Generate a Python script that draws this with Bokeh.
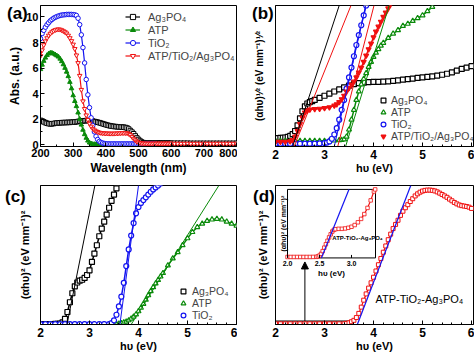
import math
from bokeh.plotting import figure
from bokeh.layouts import column, row
from bokeh.models import Range1d, FixedTicker, Legend, LegendItem, Arrow, NormalHead, Div
from bokeh.core.properties import value
from bokeh.embed import file_html
from bokeh.resources import INLINE

FONT = "Liberation Sans"
BLACK, GREEN, BLUE, RED = "#000000", "#0a8a0a", "#1414f0", "#f01010"

NAMES = ["Ag\u2083PO\u2084", "ATP", "TiO\u2082", "ATP/TiO\u2082/Ag\u2083PO\u2084"]
COMPOSITE_LABEL = "ATP-TiO\u2082-Ag\u2083PO\u2084"
PANEL_TAGS = ["(a)", "(b)", "(c)", "(d)"]

# ---------------- (a) absorbance spectra ----------------
wl_ag = list(range(200, 605, 5)) + list(range(610, 810, 10))
abs_ag = [1.90, 1.85, 1.78, 1.72, 1.67, 1.64, 1.62, 1.63, 1.65, 1.67,
          1.69, 1.70, 1.71, 1.72, 1.72, 1.73, 1.73, 1.74, 1.74, 1.75,
          1.76, 1.77, 1.79, 1.81, 1.83, 1.85, 1.86, 1.87, 1.88, 1.88,
          1.87, 1.86, 1.84, 1.81, 1.78, 1.75, 1.72, 1.68, 1.64, 1.60,
          1.56, 1.52, 1.49, 1.46, 1.44, 1.42, 1.41, 1.40, 1.39, 1.38,
          1.37, 1.36, 1.34, 1.30, 1.22, 1.10, 0.98, 0.85, 0.68, 0.52,
          0.40, 0.28, 0.20, 0.15, 0.13, 0.12, 0.12, 0.12, 0.12, 0.12,
          0.12, 0.12, 0.12, 0.11, 0.11, 0.11, 0.11, 0.11, 0.11, 0.11,
          0.11,
          0.11, 0.11, 0.11, 0.11, 0.11, 0.10, 0.10, 0.10, 0.10, 0.10,
          0.10, 0.10, 0.10, 0.10, 0.10, 0.10, 0.10, 0.10, 0.10, 0.10]
wl_atp = list(range(200, 405, 5))
abs_atp = [5.90, 6.25, 6.55, 6.80, 7.00, 7.12, 7.18, 7.18, 7.12, 7.05,
           6.97, 6.88, 6.72, 6.52, 6.28, 6.00, 5.70, 5.35, 4.90, 4.40,
           3.85, 3.40, 3.00, 2.50, 2.00, 1.55, 1.15, 0.80, 0.52, 0.30,
           0.15, 0.07, 0.03, 0.02, 0.02, 0.02, 0.02, 0.02, 0.02, 0.02, 0.02]
wl_tio = list(range(200, 555, 5))
abs_tio = [8.30, 8.70, 8.95, 9.20, 9.40, 9.55, 9.70, 9.80, 9.90, 9.97,
           10.03, 10.08, 10.12, 10.15, 10.17, 10.18, 10.20, 10.20, 10.20, 10.20,
           10.19, 10.17, 10.12, 9.90, 9.40, 8.60, 7.60, 6.40, 5.10, 3.90,
           2.90, 2.10, 1.50, 1.00, 0.65, 0.40, 0.25, 0.17, 0.12, 0.09,
           0.07, 0.06, 0.05, 0.05, 0.05, 0.05, 0.05, 0.05, 0.05, 0.05,
           0.05, 0.05, 0.05, 0.05, 0.05, 0.05, 0.05, 0.05, 0.05, 0.05,
           0.05, 0.05, 0.05, 0.05, 0.05, 0.05, 0.05, 0.05, 0.05, 0.05,
           0.05]
wl_cmp = list(range(200, 605, 5)) + list(range(610, 810, 10))
abs_cmp = [6.95, 7.40, 7.80, 8.10, 8.35, 8.55, 8.70, 8.82, 8.92, 8.98,
           9.02, 9.04, 9.02, 8.97, 8.90, 8.82, 8.72, 8.55, 8.35, 8.12,
           7.85, 7.50, 7.00, 6.40, 5.40, 4.30, 3.40, 2.80, 2.30, 1.95,
           1.65, 1.42, 1.25, 1.13, 1.05, 0.99, 0.95, 0.92, 0.90, 0.89,
           0.88, 0.88, 0.87, 0.87, 0.87, 0.87, 0.88, 0.88, 0.89, 0.90,
           0.91, 0.91, 0.91, 0.90, 0.85, 0.76, 0.62, 0.47, 0.34, 0.24,
           0.17, 0.13, 0.11, 0.10, 0.09, 0.09, 0.09, 0.09, 0.09, 0.09,
           0.09, 0.09, 0.09, 0.09, 0.09, 0.09, 0.09, 0.09, 0.09, 0.09,
           0.09,
           0.08, 0.08, 0.08, 0.08, 0.08, 0.08, 0.08, 0.08, 0.08, 0.08,
           0.08, 0.08, 0.08, 0.08, 0.08, 0.08, 0.08, 0.08, 0.08, 0.08]
a_xticks = [200, 300, 400, 500, 600, 700, 800]
a_xminor = [250, 350, 450, 550, 650, 750]
a_yticks = [0, 2, 4, 6, 8, 10]
a_yminor = [1, 3, 5, 7, 9]

# ---------------- (b) (alpha h nu)^1/2 Tauc plot ----------------
b_ag_x = [2.0, 2.05, 2.1, 2.15, 2.2, 2.25, 2.3, 2.35, 2.4, 2.45, 2.5, 2.55, 2.6, 2.65, 2.7, 2.75, 2.8,
          2.9, 3.0, 3.1, 3.2, 3.3, 3.4, 3.5, 3.6, 3.7, 3.8, 3.9, 4.0, 4.1, 4.2, 4.3, 4.4, 4.5, 4.6,
          4.7, 4.8, 4.9, 5.0, 5.1, 5.2, 5.3, 5.4, 5.5, 5.6, 5.7, 5.8, 5.9, 6.0]
b_ag_y = [0.060, 0.060, 0.061, 0.062, 0.064, 0.068, 0.075, 0.088, 0.11, 0.15, 0.20, 0.25, 0.285, 0.305,
          0.315, 0.322, 0.33,
          0.345, 0.36, 0.375, 0.39, 0.405, 0.42, 0.432, 0.442, 0.449, 0.453, 0.456, 0.458, 0.459, 0.46,
          0.462, 0.465, 0.469, 0.474, 0.478, 0.482, 0.486, 0.49, 0.494, 0.498, 0.503, 0.509, 0.516,
          0.526, 0.538, 0.55, 0.56, 0.57]
b_atp_x = [2.0, 2.1, 2.2, 2.3, 2.4, 2.5, 2.6, 2.7, 2.8, 2.9, 3.0, 3.1, 3.2, 3.3,
           3.35, 3.4, 3.45, 3.5, 3.55, 3.6, 3.65, 3.7, 3.75, 3.8, 3.85, 3.9, 3.95, 4.0, 4.05, 4.1, 4.15, 4.2,
           4.3, 4.4, 4.5, 4.6, 4.7, 4.8, 4.9, 5.0, 5.1, 5.2]
b_atp_y = [0.04, 0.04, 0.04, 0.04, 0.04, 0.04, 0.04, 0.04, 0.04, 0.04, 0.04, 0.041, 0.042, 0.044,
           0.046, 0.05, 0.07, 0.12, 0.19, 0.26, 0.33, 0.39, 0.44, 0.48, 0.52, 0.565, 0.60, 0.635, 0.665,
           0.69, 0.715, 0.735,
           0.77, 0.80, 0.825, 0.855, 0.87, 0.89, 0.91, 0.93, 0.96, 0.99]
b_tio_x = [2.0, 2.1, 2.2, 2.3, 2.4, 2.5, 2.6, 2.7, 2.8, 2.9, 3.0,
           3.05, 3.1, 3.15, 3.2, 3.25, 3.3, 3.35, 3.4, 3.45, 3.5, 3.55, 3.6, 3.65, 3.7, 3.75, 3.8, 3.85]
b_tio_y = [0.02, 0.02, 0.02, 0.02, 0.02, 0.02, 0.02, 0.02, 0.021, 0.022, 0.024,
           0.028, 0.036, 0.055, 0.085, 0.13, 0.19, 0.26, 0.33, 0.41, 0.49, 0.56, 0.64, 0.72, 0.79, 0.86,
           0.93, 1.0]
b_cmp_x = [2.0, 2.1, 2.2, 2.3, 2.35, 2.4, 2.45, 2.5, 2.55, 2.6, 2.65, 2.7, 2.8, 2.9, 3.0, 3.1, 3.2,
           3.25, 3.3, 3.35, 3.4, 3.45, 3.5, 3.55, 3.6, 3.65, 3.7, 3.75, 3.8, 3.85, 3.9, 3.95, 4.0, 4.05,
           4.1, 4.15, 4.2, 4.25, 4.3, 4.35]
b_cmp_y = [0.033, 0.033, 0.034, 0.037, 0.045, 0.07, 0.11, 0.16, 0.205, 0.24, 0.255, 0.262, 0.266,
           0.268, 0.272, 0.278, 0.29,
           0.30, 0.315, 0.335, 0.36, 0.39, 0.415, 0.44, 0.46, 0.49, 0.525, 0.56, 0.60, 0.645, 0.69, 0.73,
           0.775, 0.815, 0.85, 0.885, 0.92, 0.95, 0.98, 1.01]
# fitted straight lines (x where the line leaves the bottom and the top of the plot)
b_fit_x0 = [2.35, 2.38, 3.20, 3.27, 3.43]
b_fit_x1 = [3.30, 3.54, 3.84, 4.01, 4.32]
b_fit_col = [BLACK, RED, BLUE, RED, GREEN]

# ---------------- (c) (alpha h nu)^2 plot ----------------
c_ag_x = [2.0, 2.1, 2.2, 2.3, 2.35, 2.4, 2.45, 2.5, 2.55, 2.6, 2.65, 2.7, 2.75, 2.8, 2.85, 2.9, 2.95,
          3.0, 3.05, 3.1, 3.15, 3.2, 3.25, 3.3, 3.35, 3.4, 3.45, 3.5, 3.55, 3.6]
c_ag_y = [0.003, 0.003, 0.003, 0.004, 0.005, 0.007, 0.015, 0.04, 0.09, 0.16, 0.225, 0.275, 0.302,
          0.315, 0.322, 0.335, 0.356, 0.39, 0.45, 0.51, 0.57, 0.635, 0.69, 0.74, 0.79, 0.84, 0.89,
          0.935, 0.98, 1.02]
c_atp_x = [2.0, 2.1, 2.2, 2.3, 2.4, 2.5, 2.6, 2.7, 2.8, 2.9, 3.0, 3.1, 3.2, 3.3, 3.4, 3.5,
           3.55, 3.6, 3.65, 3.7, 3.75, 3.8, 3.85, 3.9, 3.95, 4.0, 4.05, 4.1, 4.15, 4.2, 4.25, 4.3, 4.35,
           4.4, 4.45, 4.5,
           4.6, 4.7, 4.8, 4.9, 5.0, 5.1, 5.2, 5.3, 5.4, 5.5, 5.6, 5.7, 5.8, 5.9, 6.0]
c_atp_y = [0.003, 0.003, 0.003, 0.003, 0.003, 0.003, 0.003, 0.003, 0.003, 0.003, 0.003, 0.003, 0.003,
           0.003, 0.003, 0.003,
           0.004, 0.006, 0.009, 0.014, 0.02, 0.03, 0.042, 0.056, 0.073, 0.095, 0.12, 0.148, 0.178, 0.21,
           0.24, 0.268, 0.295, 0.32, 0.345, 0.37,
           0.425, 0.475, 0.52, 0.57, 0.62, 0.665, 0.70, 0.725, 0.745, 0.755, 0.76, 0.755, 0.74, 0.725, 0.71]
c_tio_x = [2.0, 2.1, 2.2, 2.3, 2.4, 2.5, 2.6, 2.7, 2.8, 2.9, 3.0, 3.1, 3.2, 3.3, 3.4,
           3.45, 3.5, 3.55, 3.6, 3.65, 3.7, 3.75, 3.8, 3.85, 3.9, 3.95, 4.0, 4.05, 4.1, 4.15, 4.2, 4.25,
           4.3, 4.35, 4.4, 4.45]
c_tio_y = [0.003, 0.003, 0.003, 0.003, 0.003, 0.003, 0.003, 0.003, 0.003, 0.003, 0.003, 0.003, 0.003,
           0.003, 0.003,
           0.01, 0.03, 0.07, 0.13, 0.20, 0.30, 0.42, 0.54, 0.64, 0.73, 0.80, 0.845, 0.875, 0.895, 0.915,
           0.935, 0.955, 0.972, 0.986, 1.0, 1.015]
c_fit_x0 = [2.54, 3.62, 3.85]
c_fit_x1 = [3.11, 4.00, 5.64]
c_fit_col = [BLACK, BLUE, GREEN]

# ---------------- (d) composite (alpha h nu)^2 plot ----------------
d_x = [2.0, 2.1, 2.2, 2.3, 2.4, 2.5, 2.6, 2.7, 2.8, 2.9, 3.0, 3.1, 3.2, 3.3, 3.4,
       3.45, 3.5, 3.55, 3.6, 3.65, 3.7, 3.75, 3.8, 3.85, 3.9, 3.95, 4.0, 4.05, 4.1, 4.15, 4.2, 4.25,
       4.3, 4.35, 4.4, 4.45, 4.5, 4.55, 4.6, 4.65, 4.7, 4.75, 4.8, 4.85, 4.9, 4.95, 5.0, 5.05, 5.1,
       5.15, 5.2, 5.25, 5.3, 5.35, 5.4, 5.45, 5.5, 5.55, 5.6, 5.65, 5.7, 5.75, 5.8, 5.85, 5.9, 5.95, 6.0]
d_y = [0.005, 0.005, 0.005, 0.005, 0.005, 0.005, 0.005, 0.005, 0.005, 0.005, 0.005, 0.005, 0.005,
       0.005, 0.005,
       0.008, 0.012, 0.02, 0.03, 0.05, 0.08, 0.125, 0.175, 0.22, 0.262, 0.30, 0.34, 0.385, 0.43, 0.475,
       0.52, 0.565, 0.61, 0.65, 0.69, 0.72, 0.75, 0.785, 0.815, 0.84, 0.862, 0.885, 0.905, 0.925, 0.94,
       0.952, 0.96, 0.965, 0.967, 0.967, 0.965, 0.961, 0.954, 0.945, 0.935, 0.925, 0.915, 0.902, 0.89,
       0.878, 0.868, 0.86, 0.855, 0.852, 0.849, 0.844, 0.835]
d_fit_x0, d_fit_x1 = 3.67, 4.76
d_box = (2.0, 3.5, 0.0, 0.025)        # marked region (left, right, bottom, top)
d_arrow = (2.6, 0.025, 0.45)          # x, y start, y end
d_label_pos = (4.04, 0.183)

# inset (zoom of the absorption edge)
in_x = [2.0, 2.05, 2.1, 2.15, 2.2, 2.25, 2.3, 2.35, 2.4, 2.45,
        2.475, 2.5, 2.525, 2.55, 2.575, 2.6, 2.625, 2.65, 2.675, 2.7, 2.725, 2.75,
        2.8, 2.85, 2.9, 2.95, 3.0, 3.05, 3.1, 3.15, 3.2, 3.25, 3.3, 3.35, 3.37]
in_y = [0.014, 0.014, 0.014, 0.014, 0.014, 0.014, 0.014, 0.014, 0.015, 0.016,
        0.022, 0.035, 0.06, 0.10, 0.15, 0.20, 0.25, 0.30, 0.345, 0.385, 0.41, 0.42,
        0.425, 0.425, 0.43, 0.44, 0.455, 0.48, 0.52, 0.57, 0.64, 0.73, 0.84, 0.97, 1.0]
in_fit = (2.53, 2.96)
in_xrange = (2.0, 3.375)
in_yrange = (0.0, 1.0)
in_ticks = [2.0, 2.5, 3.0]
in_tick_labels = ["2.0", "2.5", "3.0"]

ev_ticks = [2, 3, 4, 5, 6]
ev_minor = [2.2, 2.4, 2.6, 2.8, 3.2, 3.4, 3.6, 3.8, 4.2, 4.4, 4.6, 4.8, 5.2, 5.4, 5.6, 5.8]

Y_SQRT = "(\u03b1h\u03c5)\u00b9\u2044\u00b2 (eV mm\u207b\u00b9)\u00b9\u2044\u00b2"
Y_SQ = "(\u03b1h\u03c5)\u00b2 (eV mm\u207b\u00b9)\u00b2"
X_EV = "h\u03c5 (eV)"


def base_fig(xr, yr, bl, br, bt, bb):
    p = figure(width=237, height=177, x_range=xr, y_range=yr, output_backend="svg",
               toolbar_location=None,
               min_border_left=bl, min_border_right=br, min_border_top=bt, min_border_bottom=bb)
    p.grid.visible = False
    p.outline_line_color = "black"
    p.outline_line_width = 1
    p.outline_line_alpha = 1
    p.background_fill_color = "white"
    p.border_fill_color = "white"
    for ax in p.axis:
        ax.axis_line_color = "black"
        ax.major_tick_line_color = "black"
        ax.minor_tick_line_color = "black"
        ax.major_tick_in = 4
        ax.major_tick_out = 0
        ax.minor_tick_in = 2
        ax.minor_tick_out = 0
        ax.major_label_text_font = FONT
        ax.major_label_text_font_style = "bold"
        ax.major_label_text_color = "black"
        ax.axis_label_text_font = FONT
        ax.axis_label_text_font_style = "bold"
        ax.axis_label_text_color = "black"
    return p


def legend(p, items, loc, size, gw, gh, standoff):
    lg = Legend(items=items, location=loc, label_text_font=FONT, label_text_font_size=size,
                glyph_width=gw, glyph_height=gh, label_height=gh, spacing=0, padding=0, margin=0,
                label_standoff=standoff, border_line_color=None, background_fill_alpha=0)
    p.add_layout(lg)


def ev_axes(p, ylabel, ystand, yfont):
    p.xaxis.ticker = FixedTicker(ticks=ev_ticks, minor_ticks=ev_minor)
    p.xaxis.axis_label = X_EV
    p.xaxis.major_label_text_font_size = "12px"
    p.xaxis.axis_label_text_font_size = "11px"
    p.xaxis.major_label_standoff = 3
    p.xaxis.axis_label_standoff = 0
    p.yaxis.ticker = FixedTicker(ticks=[])
    p.yaxis.axis_label = ylabel
    p.yaxis.axis_label_text_font_size = yfont
    p.yaxis.axis_label_standoff = ystand


# ---------------- panel (a) ----------------
pa = base_fig(Range1d(200, 800), Range1d(-0.15, 10.9), 40, 1, 5, 31)
pa.xaxis.ticker = FixedTicker(ticks=a_xticks, minor_ticks=a_xminor)
pa.yaxis.ticker = FixedTicker(ticks=a_yticks, minor_ticks=a_yminor)
pa.xaxis.axis_label = "Wavelength (nm)"
pa.yaxis.axis_label = "Abs. (a.u.)"
for ax in pa.axis:
    ax.major_label_text_font_size = "11px"
    ax.axis_label_text_font_size = "12px"
    ax.major_label_standoff = 2
    ax.axis_label_standoff = 1

a_series = [(wl_ag, abs_ag, BLACK, "square", "white"),
            (wl_atp, abs_atp, GREEN, "triangle", GREEN),
            (wl_tio, abs_tio, BLUE, "circle", "white"),
            (wl_cmp, abs_cmp, RED, "inverted_triangle", "white")]
a_items = []
for (xs, ys, col, mk, fill), name in zip(a_series, NAMES):
    l = pa.line(xs, ys, line_color=col, line_width=1.2)
    s = pa.scatter(xs, ys, marker=mk, size=4.5, line_color=col, fill_color=fill, line_width=1)
    a_items.append(LegendItem(label=name, renderers=[l, s]))
legend(pa, a_items, (85, 84), "11px", 15, 13, 8)

# ---------------- panel (b) ----------------
pb = base_fig(Range1d(2, 6.04), Range1d(0, 1), 38, 1, 5, 31)
ev_axes(pb, Y_SQRT, 11, "10px")
b_series = [(b_ag_x, b_ag_y, BLACK, "square", "white"),
            (b_atp_x, b_atp_y, GREEN, "triangle", "white"),
            (b_tio_x, b_tio_y, BLUE, "circle", "white"),
            (b_cmp_x, b_cmp_y, RED, "inverted_triangle", RED)]
b_items = []
for (xs, ys, col, mk, fill), name in zip(b_series, NAMES):
    pb.line(xs, ys, line_color=col, line_width=1.5)
    s = pb.scatter(xs, ys, marker=mk, size=5, line_color=col, fill_color=fill, line_width=1.2)
    b_items.append(LegendItem(label=name, renderers=[s]))
pb.segment(x0=b_fit_x0, y0=0, x1=b_fit_x1, y1=1, line_color=b_fit_col, line_width=1)
legend(pb, b_items, (102, 4), "10.5px", 12, 12, 2)

# ---------------- panel (c) ----------------
pc = base_fig(Range1d(2, 6), Range1d(0, 1), 40, 1, 8, 27)
ev_axes(pc, Y_SQ, 10, "11px")
c_series = [(c_ag_x, c_ag_y, BLACK, "square", "white"),
            (c_atp_x, c_atp_y, GREEN, "triangle", "white"),
            (c_tio_x, c_tio_y, BLUE, "circle", "white")]
c_items = []
for (xs, ys, col, mk, fill), name in zip(c_series, NAMES[:3]):
    pc.line(xs, ys, line_color=col, line_width=1.5)
    s = pc.scatter(xs, ys, marker=mk, size=5, line_color=col, fill_color=fill, line_width=1.2)
    c_items.append(LegendItem(label=name, renderers=[s]))
pc.segment(x0=c_fit_x0, y0=0, x1=c_fit_x1, y1=1, line_color=c_fit_col, line_width=1)
legend(pc, c_items, (137, 3), "10.5px", 12, 12, 3)

# ---------------- panel (d) ----------------
D_BL, D_BR, D_BT, D_BB = 38, 1, 8, 27
FW, FH = 237 - D_BL - D_BR, 177 - D_BT - D_BB
IN_L, IN_R, IN_B, IN_T = 12, 100, 68, 138   # inset box inside the frame, px
pd = base_fig(Range1d(2, 6.04), Range1d(0, 1), D_BL, D_BR, D_BT, D_BB)
ev_axes(pd, Y_SQ, 7, "11px")
kx = (in_xrange[1] - in_xrange[0]) / (IN_R - IN_L)
ky = (in_yrange[1] - in_yrange[0]) / (IN_T - IN_B)
pd.extra_x_ranges = {"ix": Range1d(in_xrange[0] - IN_L * kx, in_xrange[0] + (FW - IN_L) * kx)}
pd.extra_y_ranges = {"iy": Range1d(in_yrange[0] - IN_B * ky, in_yrange[0] + (FH - IN_B) * ky)}

pd.quad(left=d_box[0], right=d_box[1], bottom=d_box[2], top=d_box[3], fill_alpha=0,
        line_color="black", line_width=1.2)
pd.line(d_x, d_y, line_color=RED, line_width=1.2)
pd.scatter(d_x, d_y, marker="square", size=4, line_color=RED, fill_color="white", line_width=1)
pd.segment(x0=[d_fit_x0], y0=0, x1=[d_fit_x1], y1=1, line_color=BLUE, line_width=1.2)
pd.add_layout(Arrow(end=NormalHead(size=7, fill_color="black", line_color="black"),
                    x_start=d_arrow[0], y_start=d_arrow[1], x_end=d_arrow[0], y_end=d_arrow[2],
                    line_color="black", line_width=1))
pd.text(x=[d_label_pos[0]], y=[d_label_pos[1]], text=[COMPOSITE_LABEL], text_font=value(FONT),
        text_font_size="11px", text_align="left", text_baseline="middle", text_color="black")

# inset
IR = dict(x_range_name="ix", y_range_name="iy")
pd.quad(left=in_xrange[0], right=in_xrange[1], bottom=in_yrange[0], top=in_yrange[1],
        fill_color="white", line_color="black", line_width=1, **IR)
pd.line(in_x, in_y, line_color=RED, line_width=1.2, **IR)
pd.scatter(in_x, in_y, marker="square", size=3.5, line_color=RED, fill_color="white",
           line_width=0.8, **IR)
pd.segment(x0=[in_fit[0]], y0=in_yrange[0], x1=[in_fit[1]], y1=in_yrange[1], line_color=BLUE,
           line_width=1.2, **IR)
pd.ray(x=in_ticks, y=in_yrange[0], length=3, length_units="screen", angle=math.pi / 2,
       line_color="black", line_width=1, **IR)
pd.text(x=in_ticks, y=in_yrange[0], text=in_tick_labels, text_font=value(FONT),
        text_font_size="7px", text_font_style="bold", text_align="center", text_baseline="top",
        y_offset=3, **IR)
pd.text(x=[(in_xrange[0] + in_xrange[1]) / 2], y=[in_yrange[0]], text=[X_EV],
        text_font=value(FONT), text_font_size="8px", text_font_style="bold", text_align="center",
        text_baseline="top", y_offset=11, **IR)
pd.text(x=[in_xrange[0]], y=[(in_yrange[0] + in_yrange[1]) / 2], text=[Y_SQ],
        text_font=value(FONT), text_font_size="7px", text_font_style="bold", text_align="center",
        text_baseline="bottom", angle=math.pi / 2, x_offset=-1, **IR)
pd.text(x=[2.70], y=[0.29], text=[COMPOSITE_LABEL], text_font=value(FONT), text_font_size="6px",
        text_font_style="bold", text_align="left", text_baseline="middle", **IR)

# ---------------- panel letters (overlaid on the page, outside the plot frames) ----------------
TAG_POS = [(2, 0), (247, 0), (0, 183), (248, 183)]   # left, top in page pixels
tag_html = "".join(
    '<span style="position:absolute;left:%dpx;top:%dpx;">%s</span>' % (x, y, t)
    for t, (x, y) in zip(PANEL_TAGS, TAG_POS))
tags = Div(text=tag_html, width=474, height=354,
           styles={"position": "absolute", "left": "0px", "top": "0px", "z-index": "5",
                   "pointer-events": "none", "font-family": FONT, "font-weight": "bold",
                   "font-size": "17px", "line-height": "17px", "color": "black"})

layout = column(row(pa, pb), row(pc, pd), tags)
open("out.html", "w").write(file_html(layout, INLINE))
